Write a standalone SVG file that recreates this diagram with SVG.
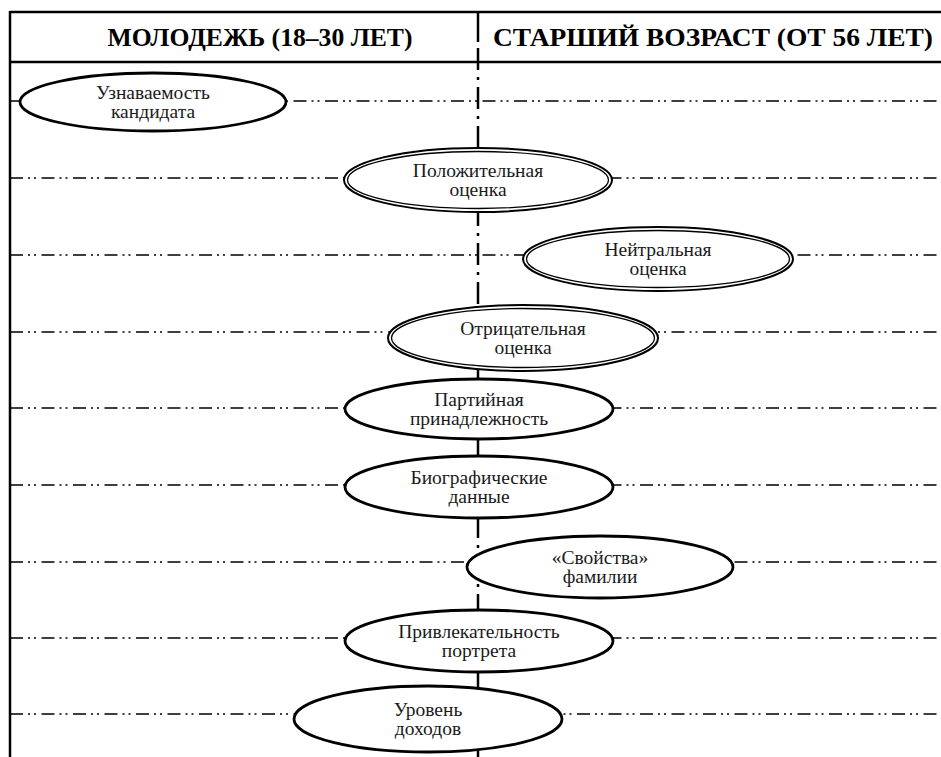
<svg xmlns="http://www.w3.org/2000/svg" width="941" height="757" viewBox="0 0 941 757">
  <style>
    .frame { stroke: #000; stroke-width: 2.5; fill: none; }
    .axis { stroke: #000; stroke-width: 2.5; stroke-dasharray: 22 7 3 7; fill: none; }
    .row { stroke: #000; stroke-width: 1.6; stroke-dasharray: 13 5 2 4 2 5.5; fill: none; }
    .single { fill: #fff; stroke: #000; stroke-width: 2.8; }
    .outer { fill: #fff; stroke: #000; stroke-width: 2; }
    .inner { fill: none; stroke: #000; stroke-width: 1.3; }
    .head { font-family: "Liberation Serif", "Times New Roman", serif; font-weight: bold; font-size: 26px; fill: #000; text-anchor: middle; }
    .lbl { font-family: "Liberation Serif", "Times New Roman", serif; font-size: 19.5px; fill: #1a1a1a; text-anchor: middle; }
  </style>

  <rect width="941" height="757" fill="#fff"/>

  <!-- table frame and column headers -->
  <g id="header">
    <line class="frame" x1="10" y1="12" x2="941" y2="12"/>
    <line class="frame" x1="10" y1="62" x2="941" y2="62"/>
    <line class="frame" x1="10" y1="11" x2="10" y2="757"/>
    <line class="frame" x1="478" y1="12" x2="478" y2="42"/>
    <text class="head" x="260" y="46" textLength="305" lengthAdjust="spacingAndGlyphs">МОЛОДЕЖЬ (18–30 ЛЕТ)</text>
    <text class="head" x="713" y="46" textLength="440" lengthAdjust="spacingAndGlyphs">СТАРШИЙ ВОЗРАСТ (ОТ 56 ЛЕТ)</text>
  </g>

  <!-- connectors: age axis and row guides -->
  <g id="connectors">
    <line class="axis" x1="478" y1="46" x2="478" y2="757" stroke-dashoffset="-2"/>
    <line class="row" x1="10" y1="101" x2="941" y2="101"/>
    <line class="row" x1="10" y1="178" x2="941" y2="178"/>
    <line class="row" x1="10" y1="255" x2="941" y2="255"/>
    <line class="row" x1="10" y1="332" x2="941" y2="332"/>
    <line class="row" x1="10" y1="408" x2="941" y2="408"/>
    <line class="row" x1="10" y1="485" x2="941" y2="485"/>
    <line class="row" x1="10" y1="562" x2="941" y2="562"/>
    <line class="row" x1="10" y1="638" x2="941" y2="638"/>
    <line class="row" x1="10" y1="714" x2="941" y2="714"/>
  </g>

  <g id="recognition">
    <ellipse class="single" cx="153" cy="102" rx="133" ry="29"/>
    <text class="lbl" x="153" y="99">Узнаваемость</text>
    <text class="lbl" x="153" y="118">кандидата</text>
  </g>

  <g id="positive">
    <ellipse class="outer" cx="478" cy="180" rx="134" ry="32"/>
    <ellipse class="inner" cx="478" cy="180" rx="130.5" ry="28.5"/>
    <text class="lbl" x="478" y="177">Положительная</text>
    <text class="lbl" x="478" y="196">оценка</text>
  </g>

  <g id="neutral">
    <ellipse class="outer" cx="658" cy="259" rx="135" ry="32"/>
    <ellipse class="inner" cx="658" cy="259" rx="131.5" ry="28.5"/>
    <text class="lbl" x="658" y="256">Нейтральная</text>
    <text class="lbl" x="658" y="275">оценка</text>
  </g>

  <g id="negative">
    <ellipse class="outer" cx="523" cy="338" rx="135" ry="33"/>
    <ellipse class="inner" cx="523" cy="338" rx="131.5" ry="29.5"/>
    <text class="lbl" x="523" y="335">Отрицательная</text>
    <text class="lbl" x="523" y="354">оценка</text>
  </g>

  <g id="party">
    <ellipse class="single" cx="479" cy="409" rx="134" ry="30"/>
    <text class="lbl" x="479" y="406">Партийная</text>
    <text class="lbl" x="479" y="425">принадлежность</text>
  </g>

  <g id="biography">
    <ellipse class="single" cx="479" cy="487" rx="134" ry="31"/>
    <text class="lbl" x="479" y="484">Биографические</text>
    <text class="lbl" x="479" y="503">данные</text>
  </g>

  <g id="surname">
    <ellipse class="single" cx="600" cy="567" rx="133" ry="31"/>
    <text class="lbl" x="600" y="564">«Свойства»</text>
    <text class="lbl" x="600" y="583">фамилии</text>
  </g>

  <g id="portrait">
    <ellipse class="single" cx="479" cy="641" rx="134" ry="31"/>
    <text class="lbl" x="479" y="638">Привлекательность</text>
    <text class="lbl" x="479" y="657">портрета</text>
  </g>

  <g id="income">
    <ellipse class="single" cx="428" cy="719" rx="134" ry="33"/>
    <text class="lbl" x="428" y="716">Уровень</text>
    <text class="lbl" x="428" y="735">доходов</text>
  </g>
</svg>
